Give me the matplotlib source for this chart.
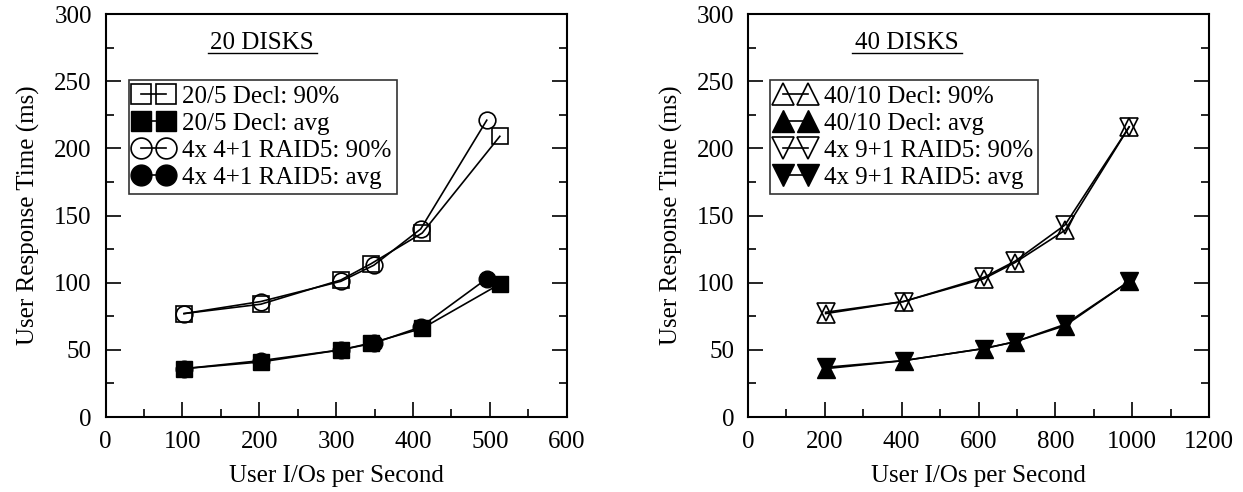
import matplotlib
matplotlib.use("Agg")
import matplotlib.pyplot as plt
from matplotlib.ticker import MultipleLocator

plt.rcParams['font.family'] = ['Liberation Serif', 'DejaVu Serif']

# 20 disks panel
x20_decl = [102, 202, 306, 345, 412, 513]
y20_decl_90 = [77, 84, 102, 114, 137, 209]
y20_decl_avg = [36, 41, 50, 55, 66, 99]
x20_raid = [102, 202, 306, 349, 410, 496]
y20_raid_90 = [77, 86, 101, 113, 140, 221]
y20_raid_avg = [36, 42, 50, 55, 67, 103]

# 40 disks panel
x40_decl = [202, 405, 614, 695, 825, 992]
y40_decl_90 = [77, 86, 103, 115, 139, 216]
y40_decl_avg = [36, 42, 51, 56, 68, 101]
x40_raid = [202, 405, 614, 695, 825, 992]
y40_raid_90 = [78, 86, 104, 116, 143, 216]
y40_raid_avg = [37, 42, 51, 56, 69, 101]

fig = plt.figure(figsize=(12.43, 4.92), dpi=100)
ax1 = fig.add_axes([0.085, 0.1524, 0.3709, 0.819])
ax2 = fig.add_axes([0.6018, 0.1524, 0.3709, 0.819])

lw = 1.2
ms = 11
fs = 18
lfs = 18

def style(ax, xmax, xmaj, xmin):
    ax.set_xlim(0, xmax)
    ax.set_ylim(0, 300)
    ax.xaxis.set_major_locator(MultipleLocator(xmaj))
    ax.xaxis.set_minor_locator(MultipleLocator(xmin))
    ax.yaxis.set_major_locator(MultipleLocator(50))
    ax.yaxis.set_minor_locator(MultipleLocator(25))
    ax.tick_params(which='both', direction='in', right=True, top=False,
                   labelsize=fs, width=1.2)
    ax.tick_params(axis='y', pad=10)
    ax.tick_params(axis='x', pad=10)
    ax.tick_params(which='major', length=11)
    ax.tick_params(which='minor', length=6)
    for s in ax.spines.values():
        s.set_linewidth(1.5)
    ax.set_xlabel("User I/Os per Second", fontsize=fs, labelpad=9)
    ax.set_ylabel("User Response Time (ms)", fontsize=fs, labelpad=10)

# left panel
ax1.plot(x20_decl, y20_decl_90, '-', marker='s', color='black', mfc='none',
         ms=ms, lw=lw, mew=1.2, label="20/5 Decl: 90%")
ax1.plot(x20_decl, y20_decl_avg, '-', marker='s', color='black', mfc='black',
         ms=ms, lw=lw, label="20/5 Decl: avg")
ax1.plot(x20_raid, y20_raid_90, '-', marker='o', color='black', mfc='none',
         ms=ms + 1, lw=lw, mew=1.2, label="4x 4+1 RAID5: 90%")
ax1.plot(x20_raid, y20_raid_avg, '-', marker='o', color='black', mfc='black',
         ms=ms + 1, lw=lw, label="4x 4+1 RAID5: avg")
style(ax1, 600, 100, 50)
ax1.text(0.339, 0.928, "20 DISKS", transform=ax1.transAxes, ha='center',
         va='center', fontsize=fs)
ax1.plot([0.221, 0.458], [0.903, 0.903], transform=ax1.transAxes,
         color='black', lw=1.0)

# right panel
ax2.plot(x40_decl, y40_decl_90, '-', marker='^', color='black', mfc='none',
         ms=ms + 2, lw=lw, mew=1.2, label="40/10 Decl: 90%")
ax2.plot(x40_decl, y40_decl_avg, '-', marker='^', color='black', mfc='black',
         ms=ms + 2, lw=lw, label="40/10 Decl: avg")
ax2.plot(x40_raid, y40_raid_90, '-', marker='v', color='black', mfc='none',
         ms=ms + 2, lw=lw, mew=1.2, label="4x 9+1 RAID5: 90%")
ax2.plot(x40_raid, y40_raid_avg, '-', marker='v', color='black', mfc='black',
         ms=ms + 2, lw=lw, label="4x 9+1 RAID5: avg")
style(ax2, 1200, 200, 100)
ax2.text(0.345, 0.928, "40 DISKS", transform=ax2.transAxes, ha='center',
         va='center', fontsize=fs)
ax2.plot([0.226, 0.464], [0.903, 0.903], transform=ax2.transAxes,
         color='black', lw=1.0)

for ax, anchor in ((ax1, (0.050, 0.836)), (ax2, (0.048, 0.836))):
    leg = ax.legend(loc='upper left', bbox_to_anchor=anchor, numpoints=2,
                    fontsize=lfs, frameon=True, fancybox=False,
                    borderpad=0.2, labelspacing=0.18, handlelength=1.6,
                    handletextpad=0.35, borderaxespad=0.0, markerscale=1.25)
    leg.get_frame().set_edgecolor('black')
    leg.get_frame().set_linewidth(1.2)

fig.savefig("out.png", dpi=100)
